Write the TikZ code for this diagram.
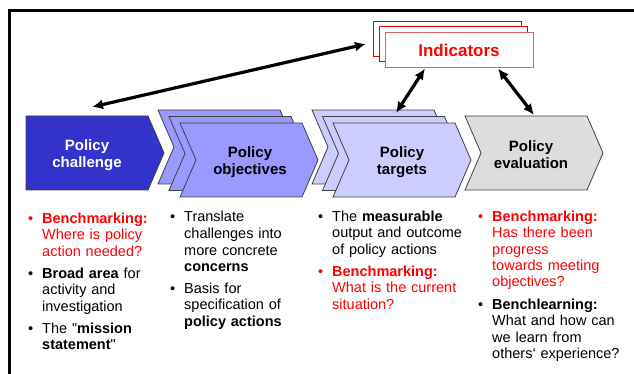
\documentclass[tikz,border=0pt]{standalone}
\usepackage{fontspec}
\setmainfont{Liberation Sans}
\usepackage{tikz}
\usetikzlibrary{arrows.meta}

\definecolor{chalblue}{HTML}{3333CC}
\definecolor{objblue}{HTML}{9999FF}
\definecolor{tgtblue}{HTML}{CCCCFF}
\definecolor{evalgrey}{HTML}{DDDDDD}
\definecolor{indred}{HTML}{DD0000}
\definecolor{indlight}{HTML}{E06060}
\definecolor{bmred}{HTML}{FF0000}

% chevron with notch: left x, top y, fill colour
\newcommand{\chevron}[3]{%
  \draw[chevline, fill=#3] (#1,#2) -- ++(122,0) -- ++(16,37) -- ++(-16,37) -- ++(-122,0) -- ++(16,-37) -- cycle;}
% one bullet item, optional colour
\newcommand{\itm}[2][black]{{\leavevmode\color{#1}\hangindent=14pt\hangafter=1\makebox[14pt][l]{\textbullet}#2\par}}

\tikzset{
  chevline/.style={draw=black!75, line width=0.8pt},
  hdr/.style={font=\bfseries\fontsize{15}{17}\selectfont, align=center},
  indbox/.style={draw=indred, fill=white, line width=1pt, minimum width=148pt, minimum height=35pt, inner sep=0pt},
  bullets/.style={anchor=base west, text width=150pt, inner sep=0pt, align=left,
    font=\fontsize{14.5}{16.5}\selectfont, execute at begin node={\setlength{\parskip}{5.5pt}}},
  dbl/.style={{Latex[length=11pt,width=10pt]}-{Latex[length=11pt,width=10pt]}, line width=3.2pt},
}

\begin{document}
\begin{tikzpicture}[x=1pt, y=-1pt]
\useasboundingbox (0,0) rectangle (634,374);
\draw[line width=3pt] (634,10.5) -- (9.5,10.5) -- (9.5,374);

% chevrons
\draw[chevline, fill=chalblue] (26,116) -- ++(122,0) -- ++(16,37) -- ++(-16,37) -- ++(-122,0) -- cycle;
\foreach \d in {2,1,0} {
  \chevron{180-11*\d}{123-6.5*\d}{objblue}
  \chevron{333-10.5*\d}{123-6.5*\d}{tgtblue}
}
\chevron{465}{116}{evalgrey}

\node[hdr, text=white] (chal) at (87,155) {Policy\\challenge};
\node[hdr] (obj) at (250,162) {Policy\\objectives};
\node[hdr] (tgt) at (402,162) {Policy\\targets};
\node[hdr] (eval) at (531,155) {Policy\\evaluation};

\coordinate (chaltop) at (92,107);
\coordinate (tgttop) at (396,113);
\coordinate (evaltop) at (534,115);

% indicators
\node[indbox] (ind3) at (447.5,39) {};
\node[indbox] (ind2) at (453,44.5) {};
\node[indbox, draw=indlight] (ind1) at (459,50.5) {\textcolor{bmred}{\bfseries\fontsize{17}{19}\selectfont Indicators}};

\draw[dbl] (chaltop) -- ([xshift=-7pt, yshift=-5pt]ind3.west);
\draw[dbl] ([xshift=-34pt]ind1.south) -- (tgttop);
\draw[dbl] ([xshift=39pt]ind1.south) -- (evaltop);

% bullet columns
\node[bullets] (col1) at (28,223) {%
  \itm[bmred]{\textbf{Benchmarking:}\newline Where is policy\newline action needed?}
  \itm{\textbf{Broad area} for\newline activity and\newline investigation}
  \itm{The \textquotedbl\textbf{mission}\newline \textbf{statement}\textquotedbl}};
\node[bullets] (col2) at (170,222) {%
  \itm{Translate\newline challenges into\newline more concrete\newline \textbf{concerns}}
  \itm{Basis for\newline specification of\newline \textbf{policy actions}}};
\node[bullets] (col3) at (318,221) {%
  \itm{The \textbf{measurable}\newline output and outcome\newline of policy actions}
  \itm[bmred]{\textbf{Benchmarking:}\newline What is the current\newline situation?}};
\node[bullets] (col4) at (478,221) {%
  \itm[bmred]{\textbf{Benchmarking:}\newline Has there been\newline progress\newline towards meeting\newline objectives?}
  \itm{\textbf{Benchlearning:}\newline What and how can\newline we learn from\newline others‘ experience?}};
\end{tikzpicture}
\end{document}
